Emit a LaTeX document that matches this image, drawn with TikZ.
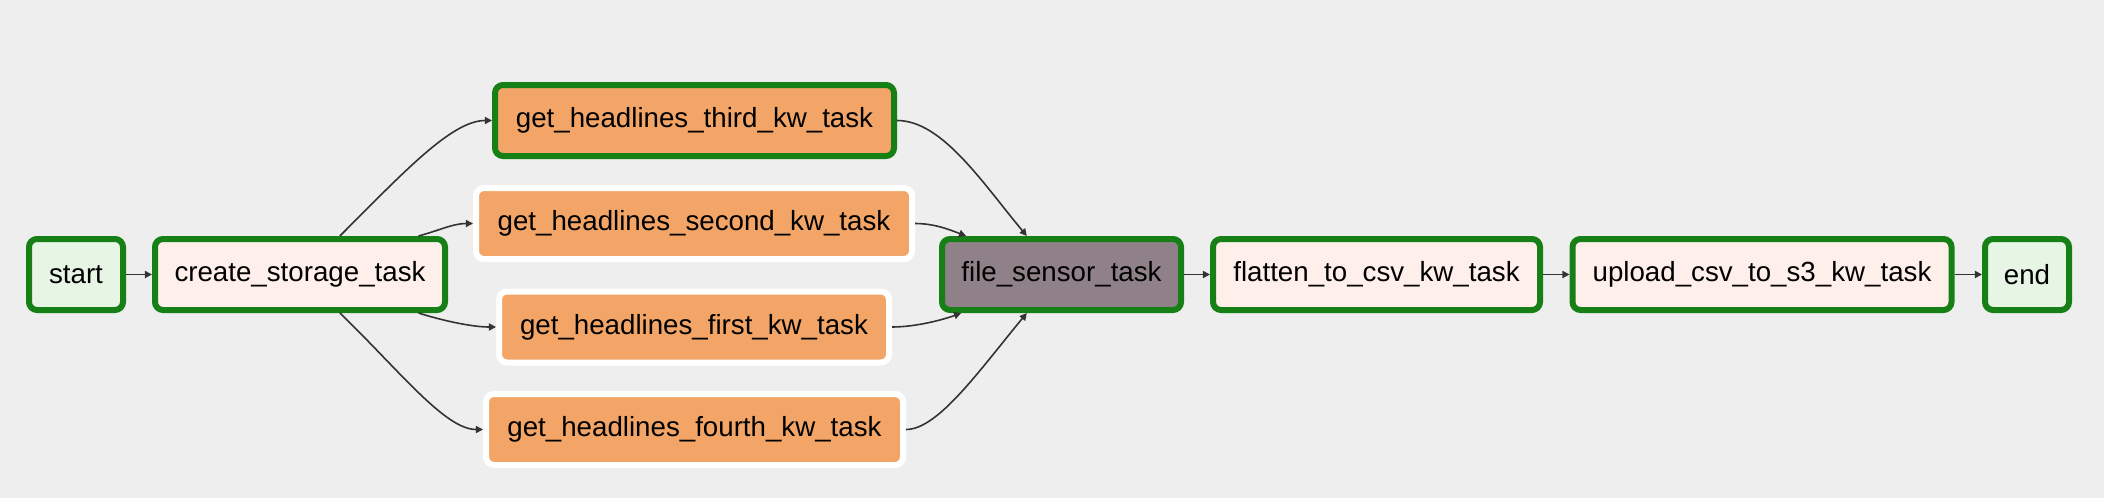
\documentclass[tikz,border=0pt]{standalone}
\usepackage{fontspec}
\setmainfont{Liberation Sans}
\usetikzlibrary{arrows.meta}
\definecolor{bgc}{HTML}{EEEEEE}
\definecolor{okgreen}{HTML}{168016}
\definecolor{dummyfill}{HTML}{E6F5E4}
\definecolor{pyfill}{HTML}{FFEFEB}
\definecolor{orangefill}{HTML}{F2A566}
\definecolor{sensorfill}{HTML}{908189}
\definecolor{edgec}{HTML}{333333}
\begin{document}
\begin{tikzpicture}[x=0.5pt,y=-0.5pt,
  task/.style={rectangle, rounded corners=4pt, line width=3pt, minimum height=35.5pt,
    inner sep=0pt, font=\fontsize{13.85pt}{16pt}\selectfont, text=black},
  done/.style={task, draw=okgreen},
  plain/.style={task, draw=white},
  dummy/.style={done, fill=dummyfill},
  pyop/.style={done, fill=pyfill},
  orng/.style={fill=orangefill},
  sensor/.style={done, fill=sensorfill},
  edge/.style={draw=edgec, line width=0.8pt, -{Triangle[length=3.6pt,width=3.6pt]}}
]
\fill[bgc] (0,0) rectangle (2104,498);
\useasboundingbox (0,0) rectangle (2104,498);

\node[dummy, minimum width=47pt] (start) at (76,274.5) {start};
\node[pyop, minimum width=145pt] (create) at (300,274.5) {create\_storage\_task};
\node[done, orng, minimum width=199.5pt] (third) at (694.5,120.5) {get\_headlines\_third\_kw\_task};
\node[plain, orng, minimum width=218pt] (second) at (694,223.5) {get\_headlines\_second\_kw\_task};
\node[plain, orng, minimum width=195pt] (first) at (694,327) {get\_headlines\_first\_kw\_task};
\node[plain, orng, minimum width=208.5pt] (fourth) at (694.5,429.5) {get\_headlines\_fourth\_kw\_task};
\node[sensor, minimum width=119.5pt] (fs) at (1061.5,274.5) {file\_sensor\_task};
\node[pyop, minimum width=163.5pt] (flatten) at (1376.5,274.5) {flatten\_to\_csv\_kw\_task};
\node[pyop, minimum width=189.5pt] (upload) at (1762,274.5) {upload\_csv\_to\_s3\_kw\_task};
\node[dummy, minimum width=42pt] (end) at (2027,274.5) {end};

\draw[edge] (start.east) -- (create.west);
\draw[edge] (create.44) .. controls +(65,-65) and +(-40,0) .. (third.west);
\draw[edge] (create.18) .. controls +(22,-6) and +(-20,0) .. (second.west);
\draw[edge] (create.-18) .. controls +(22,7) and +(-25,0) .. (first.west);
\draw[edge] (create.-44) .. controls +(60,58) and +(-38,0) .. (fourth.west);
\draw[edge] (third.east) .. controls +(45,0) and +(-45,-54) .. (fs.132);
\draw[edge] (second.east) .. controls +(20,0) and +(-16,-6) .. (fs.158.6);
\draw[edge] (first.east) .. controls +(25,0) and +(-16,6) .. (fs.201.4);
\draw[edge] (fourth.east) .. controls +(32,0) and +(-48,58) .. (fs.228);
\draw[edge] (fs.east) -- (flatten.west);
\draw[edge] (flatten.east) -- (upload.west);
\draw[edge] (upload.east) -- (end.west);
\end{tikzpicture}
\end{document}
